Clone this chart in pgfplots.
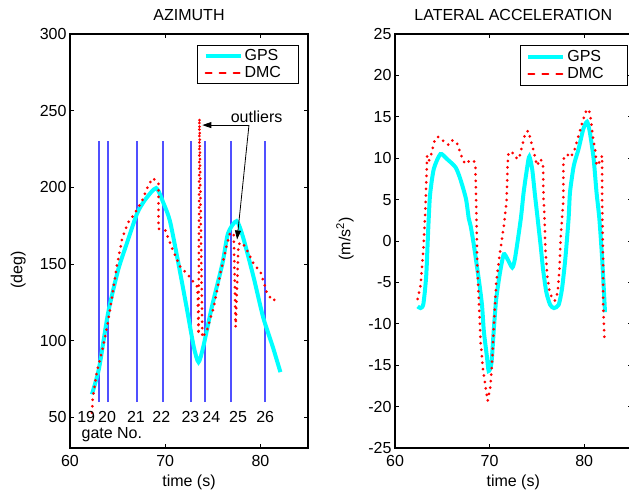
\documentclass[border=0pt]{standalone}
\usepackage{fontspec}
\setmainfont{Liberation Sans}
\usepackage{pgfplots}
\pgfplotsset{compat=1.18}
\usetikzlibrary{arrows.meta}

\definecolor{mcyan}{RGB}{0,255,255}
\definecolor{mred}{RGB}{255,0,0}
\definecolor{mblue}{RGB}{80,80,255}

\newcommand{\fs}{\fontsize{16}{19}\selectfont}

\pgfplotsset{
  mystyle/.style={
    scale only axis, width=238pt, height=414pt,
    xmin=60, xmax=85, xtick={60,70,80},
    tick align=inside, tick pos=both, major tick length=4pt,
    font=\fs,
    ticklabel style={font=\fs},
    xticklabel style={yshift=-4pt},
    /pgf/number format/assume math mode=true,
    axis line style={line width=1.2pt},
    every tick/.style={black, line width=1pt},
    xlabel={time (s)},
    xlabel style={at={(axis description cs:0.5,0)}, anchor=north, yshift=-23pt},
    title style={at={(axis description cs:0.5,1)}, anchor=center, yshift=13pt},
    legend style={draw=black, line width=1.2pt, fill=white, inner xsep=6pt,
      inner ysep=2pt, font=\fs, anchor=north east, row sep=0pt},
    legend cell align=left,
  },
  gpsline/.style={mcyan, line width=4pt, smooth, tension=0.4,
    legend image code/.code={\draw[mcyan, line width=4pt] (0pt,0pt) -- (35pt,0pt);}},
  dmcline/.style={mred, line width=3pt, line cap=round, dash pattern=on 0pt off 6.5pt,
    legend image code/.code={\draw[mred, line width=2pt, dash pattern=on 6pt off 8pt] (0pt,0pt) -- (35pt,0pt);}},
  gate/.style={mblue, line width=2pt, forget plot},
}

\begin{document}
\begin{tikzpicture}
\begin{axis}[mystyle, at={(70pt,-448pt)}, anchor=south west,
  ymin=30, ymax=300, ytick={50,100,150,200,250,300},
  title={AZIMUTH},
  ylabel={(deg)},
  ylabel style={at={(axis description cs:-0.218,0.43)}, anchor=center},
  legend style={at={(axis description cs:0.963,0.973)}},
]
\addplot[gate] coordinates {(63.08,60) (63.08,230)};
\addplot[gate] coordinates {(63.97,60) (63.97,230)};
\addplot[gate] coordinates {(67.05,60) (67.05,230)};
\addplot[gate] coordinates {(69.76,60) (69.76,230)};
\addplot[gate] coordinates {(72.70,60) (72.70,230)};
\addplot[gate] coordinates {(74.20,60) (74.20,230)};
\addplot[gate] coordinates {(76.95,60) (76.95,230)};
\addplot[gate] coordinates {(80.45,60) (80.45,230)};
\addplot[gpsline] coordinates {
(62.3,65) (63.05,82) (64.0,118) (65.05,146) (66.0,164) (67.05,183) (67.9,192)
(69.05,199.5) (69.8,190) (70.5,178) (71.4,150) (72.3,120) (73.0,96) (73.5,86)
(74.0,96) (74.9,122) (76.0,150) (76.6,170) (77.5,178) (78.2,167) (79.3,141)
(80.3,115) (81.3,96) (82.1,79.5)};
\addlegendentry{\makebox[46pt][l]{GPS}}
\addplot[dmcline] coordinates {
(62.3,53) (62.4,63) (62.8,79) (63.4,94) (63.9,109) (64.4,128) (64.9,148) (65.5,167)
(66.1,177) (66.8,183) (67.6,191.6) (68.2,201) (68.7,206) (69.3,203) (69.3,173)
(70.0,172) (70.8,159) (71.6,148) (72.4,143) (73.0,138) (73.4,135) (73.5,104)
(73.6,245) (73.9,102) (74.4,107) (75.1,122) (75.8,144) (76.5,163) (76.8,170)
(77.2,170) (77.4,109) (77.7,163) (78.1,164) (78.6,159) (79.3,150) (80.0,145)
(80.4,137) (80.7,131) (81.3,126) (81.8,128)};
\addlegendentry{DMC}
\addplot[black, line width=0.8pt, -{Triangle[length=9pt,width=6pt]}, forget plot]
  coordinates {(78.8,240.6) (73.9,240.6)};
\addplot[black, line width=0.8pt, -{Triangle[length=9pt,width=6pt]}, forget plot]
  coordinates {(78.8,240.6) (77.55,166)};
\node[inner sep=1pt] at (axis cs:79.6,245.8) {outliers};
\node[inner sep=0pt] at (axis cs:61.7,50.5) {19};
\node[inner sep=0pt] at (axis cs:63.9,50.5) {20};
\node[inner sep=0pt] at (axis cs:66.93,50.5) {21};
\node[inner sep=0pt] at (axis cs:69.60,50.5) {22};
\node[inner sep=0pt] at (axis cs:72.65,50.5) {23};
\node[inner sep=0pt] at (axis cs:74.85,50.5) {24};
\node[inner sep=0pt] at (axis cs:77.65,50.5) {25};
\node[inner sep=0pt] at (axis cs:80.50,50.5) {26};
\node[inner sep=0pt, anchor=west] at (axis cs:61.2,38.8) {gate No.};
\end{axis}

\begin{axis}[mystyle, at={(395pt,-448pt)}, anchor=south west, width=236.5pt,
  ymin=-25, ymax=25, ytick={-25,-20,-15,-10,-5,0,5,10,15,20,25},
  yticklabels={-25,-20,-15,-10,-5,0,5,10,15,20,25},
  title={LATERAL ACCELERATION},
  ylabel={(m/s\textsuperscript{2})},
  ylabel style={at={(axis description cs:-0.211,0.505)}, anchor=center},
  legend style={at={(axis description cs:0.985,0.973)}, inner ysep=3pt},
]
\addplot[gpsline] coordinates {
(62.4,-7.9) (62.7,-8.1) (63.0,-7.6) (63.3,-4.2) (63.5,1.1) (63.7,5.5) (64.1,8.7)
(64.8,10.5) (65.5,9.9) (66.4,8.9) (66.9,7.5) (67.5,5.1) (67.8,2.7) (68.0,1.8)
(68.35,-0.6) (68.9,-5.0) (69.2,-7.8) (69.4,-11) (69.7,-13.8) (69.9,-15.7)
(70.2,-14.7) (70.45,-10.6) (70.7,-7.0) (71.1,-3.8) (71.5,-1.6) (71.9,-2.2)
(72.4,-3.2) (72.7,-2.0) (73.3,2.7) (73.6,5.9) (74.0,9.1) (74.2,10.2) (74.5,8.7)
(74.8,5.5) (75.0,3.5) (75.4,-0.6) (75.65,-3.4) (76.0,-6.2) (76.4,-7.7) (76.8,-8.1)
(77.3,-7.7) (77.65,-5.8) (78.0,-2.2) (78.35,2.7) (78.5,5.9) (78.9,9.1) (79.4,11.1)
(79.9,13.5) (80.3,14.4) (80.6,13.1) (81.0,9.9) (81.3,5.9) (81.6,2.7) (81.9,-2.2)
(82.2,-8.6)};
\addlegendentry{\makebox[52pt][l]{GPS}}
\addplot[dmcline] coordinates {
(62.4,-7.0) (62.7,-5.4) (63.0,-1.0) (63.2,3.5) (63.4,10.3) (63.6,9.7) (63.9,10.7)
(64.1,11.9) (64.5,12.6) (64.9,12.4) (65.3,11.8) (65.7,11.6) (66.1,12.2) (66.6,11.7)
(67.0,10.3) (67.4,9.3) (67.9,9.7) (68.35,9.7) (68.5,8.9) (68.6,3.5) (68.7,-3.0)
(68.9,-8.2) (69.05,-12.2) (69.3,-15.5) (69.6,-17.9) (69.8,-19.3) (70.1,-17.5)
(70.3,-13.8) (70.45,-10.2) (70.7,-5.0) (71.0,-2.2) (71.3,0.2) (71.6,2.7) (71.8,4.9)
(71.9,9.1) (72.0,10.7) (72.4,10.7) (72.7,10.1) (73.1,9.9) (73.4,11.3) (73.8,13.1)
(74.1,13.3) (74.4,11.9) (74.7,10.7) (75.0,9.1) (75.4,9.9) (75.65,9.1) (75.7,5.1)
(75.8,3.1) (75.9,-1.0) (76.1,-4.2) (76.35,-6.2) (76.7,-7.1) (76.9,-7.2) (77.2,-6.2)
(77.4,-3.0) (77.5,0.2) (77.7,3.5) (77.8,5.1) (77.8,9.9) (78.2,10.5) (78.5,10.1)
(78.9,10.7) (79.2,11.9) (79.6,13.5) (79.9,14.7) (80.2,15.7) (80.5,15.9) (80.7,14.7)
(80.9,12.7) (81.2,10.7) (81.3,9.1) (81.6,9.5) (81.9,10.3) (81.9,4.7) (82.0,-3.0)
(82.0,-7.8) (82.15,-11.8)};
\addlegendentry{DMC}
\end{axis}
\pgfresetboundingbox
\useasboundingbox (0pt,0pt) rectangle (629pt,-496pt);
\end{tikzpicture}
\end{document}
